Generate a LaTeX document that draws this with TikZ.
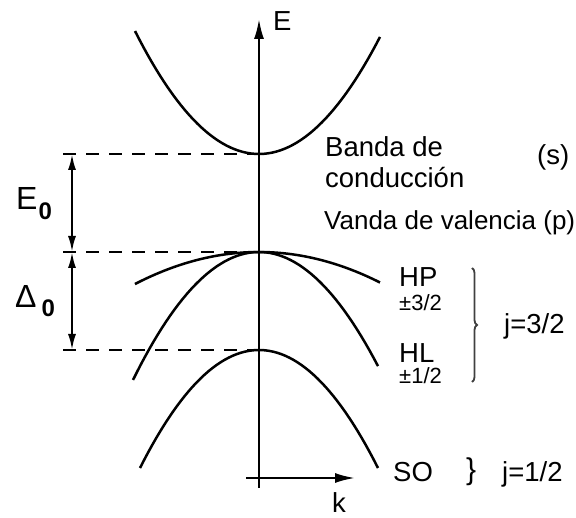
\documentclass[tikz,border=0pt]{standalone}
\usepackage{fontspec}
\setmainfont{Liberation Sans}
\usetikzlibrary{arrows.meta,decorations.pathreplacing}
\begin{document}
\begin{tikzpicture}[x=1pt,y=-1pt,
  band/.style={line width=2.5pt},
  axis/.style={line width=2.2pt},
  guide/.style={line width=2.2pt,dash pattern=on 13pt off 10pt},
  lbl/.style={inner sep=0pt,anchor=base west,font=\fontsize{27.5}{32}\selectfont},
  sml/.style={inner sep=0pt,anchor=base west,font=\fontsize{22}{25}\selectfont},
  gap/.style={line width=2.2pt,{Latex[length=16pt,width=8pt]}-{Latex[length=16pt,width=8pt]}},
  brc/.style={line width=1.8pt,black!75,decorate,decoration={brace,amplitude=5pt}}]
\useasboundingbox (0,0) rectangle (576,518);
% axes
\coordinate (ybot) at (259,488);
\coordinate (ytop) at (259,19);
\coordinate (xl) at (246,478);
\coordinate (xr) at (355,478);
\draw[axis,-{Latex[length=20pt,width=10pt]}] (ybot) -- (ytop);
\draw[axis,-{Latex[length=20pt,width=10pt]}] (xl) -- (xr);
% band extrema
\coordinate (cb) at (259,154);
\coordinate (vb) at (259,252);
\coordinate (so) at (259,350);
\coordinate (cbL) at (63,154);
\coordinate (vbL) at (63,252);
\coordinate (soL) at (63,350);
\draw[guide] (cbL) -- (cb);
\draw[guide] (vbL) -- (vb);
\draw[guide] (soL) -- (so);
% gap arrows
\coordinate (a1) at (72,154);
\coordinate (a2) at (72,252);
\coordinate (a3) at (72,350);
\draw[gap] (a1) -- (a2);
\draw[gap] (a2) -- (a3);
% bands
\draw[band] plot[domain=-124:121,samples=60] ({259+\x},{154-121*(\x/123)^2});
\draw[band] plot[domain=-124:121,samples=60] ({259+\x},{252+31*(\x/122)^2});
\draw[band] plot[domain=-126:119,samples=60] ({259+\x},{252+118*(\x/121)^2});
\draw[band] plot[domain=-119:119,samples=60] ({259+\x},{350+118*(\x/119)^2});
% labels
\node[lbl] (E) at (273,31) {E};
\node[lbl] (k) at (332,512) {k};
\node[inner sep=0pt,anchor=base west] (E0) at (16,210)
  {\fontsize{32}{36}\selectfont E\hspace{1pt}\raisebox{-10pt}{\fontsize{24}{28}\selectfont\bfseries 0}};
\node[inner sep=0pt,anchor=base west] (D0) at (15,308)
  {\fontsize{32}{36}\selectfont Δ\hspace{5pt}\raisebox{-9pt}{\fontsize{24}{28}\selectfont\bfseries 0}};
\node[lbl] (bd) at (325,157) {Banda de};
\node[lbl] (cd) at (325,188) {conducción};
\node[lbl] (s) at (537,165) {(s)};
\node[lbl,font=\fontsize{26}{30}\selectfont] (vd) at (324,230) {Vanda de valencia (p)};
\node[lbl] (hp) at (399,287) {HP};
\node[sml] (hp2) at (399,311) {±3/2};
\node[lbl] (hl) at (399,363) {HL};
\node[sml] (hl2) at (399,384) {±1/2};
\coordinate (b1) at (472,268);
\coordinate (b2) at (472,382);
\draw[brc] (b1) -- (b2);
\node[lbl] (j32) at (504,334) {j=3/2};
\node[lbl] (soL2) at (393,482) {SO};
\node[inner sep=0pt,anchor=base west,font=\fontsize{30}{34}\selectfont] (br2) at (466,480) {\}};
\node[lbl] (j12) at (502,482) {j=1/2};
\end{tikzpicture}
\end{document}
